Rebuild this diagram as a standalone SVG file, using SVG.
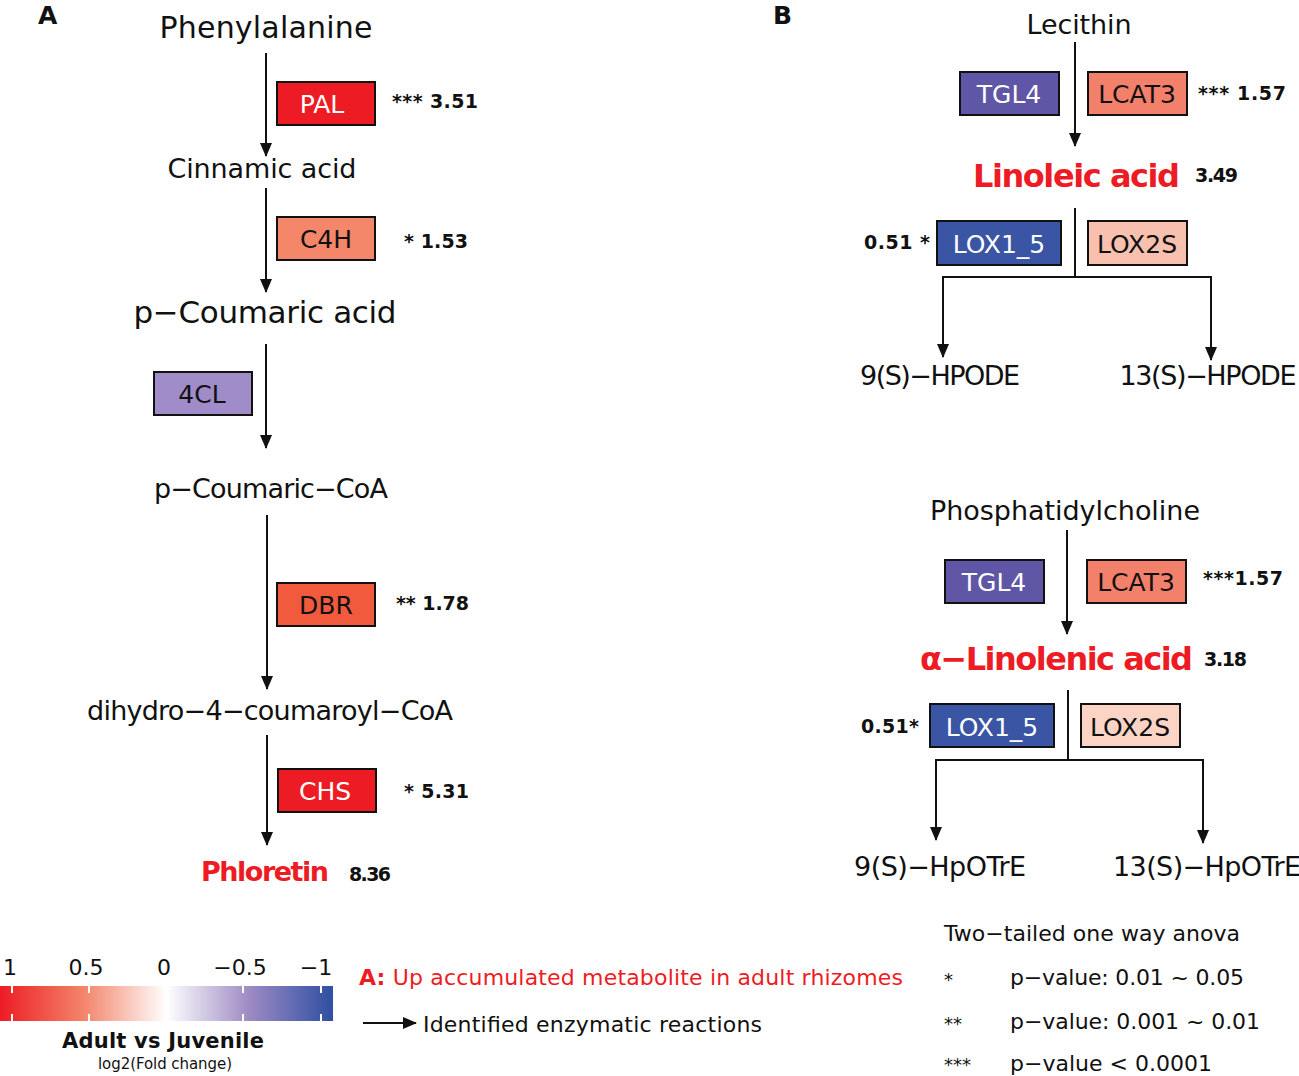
<svg xmlns="http://www.w3.org/2000/svg" width="1299" height="1076" viewBox="0 0 1299 1076">
<style>
text{font-family:"DejaVu Sans","Liberation Sans",sans-serif;fill:#111}
.m{font-size:27px}
.red{fill:#ED1C24;font-weight:bold}
.box{stroke:#111;stroke-width:2}
.bt{font-size:25px;text-anchor:middle}
.w{fill:#fff}
.st{font-size:19px;font-weight:bold}
.ln{stroke:#111;stroke-width:2;fill:none}
.pl{font-size:25px;font-weight:bold}
.lg{font-size:22px}
</style>
<defs>
<marker id="ah" markerUnits="userSpaceOnUse" markerWidth="14" markerHeight="14" viewBox="0 0 14 14" refX="13" refY="7" orient="auto">
<path d="M0,1 L14,7 L0,13 Z" fill="#111"/>
</marker>
<linearGradient id="grad" x1="0" y1="0" x2="1" y2="0">
<stop offset="0" stop-color="#ED1C24"/>
<stop offset="0.25" stop-color="#F3846A"/>
<stop offset="0.5" stop-color="#FFFFFF"/>
<stop offset="0.75" stop-color="#9D8AC3"/>
<stop offset="1" stop-color="#2E4FA3"/>
</linearGradient>
</defs>

<text x="38" y="24" class="pl">A</text>
<text x="773" y="24" class="pl">B</text>

<g id="connectors">
<line x1="266" y1="53" x2="266" y2="156" class="ln" marker-end="url(#ah)"/>
<line x1="266" y1="188" x2="266" y2="292" class="ln" marker-end="url(#ah)"/>
<line x1="266" y1="344" x2="266" y2="448" class="ln" marker-end="url(#ah)"/>
<line x1="267" y1="515" x2="267" y2="689" class="ln" marker-end="url(#ah)"/>
<line x1="267" y1="735" x2="267" y2="845" class="ln" marker-end="url(#ah)"/>
<line x1="1075" y1="42" x2="1075" y2="146" class="ln" marker-end="url(#ah)"/>
<polyline points="1075,208 1075,277" class="ln"/>
<polyline points="943,277 1211,277 1211,360" class="ln" marker-end="url(#ah)"/>
<line x1="943" y1="276" x2="943" y2="357" class="ln" marker-end="url(#ah)"/>
<line x1="1067" y1="530" x2="1067" y2="634" class="ln" marker-end="url(#ah)"/>
<polyline points="1068,690 1068,760" class="ln"/>
<polyline points="936,760 1203,760 1203,843" class="ln" marker-end="url(#ah)"/>
<line x1="936" y1="759" x2="936" y2="840" class="ln" marker-end="url(#ah)"/>
<line x1="363" y1="1023" x2="416" y2="1023" class="ln" marker-end="url(#ah)"/>
</g>

<g id="n-phenylalanine"><text x="266" y="38" text-anchor="middle" font-size="30" textLength="213">Phenylalanine</text></g>
<g id="n-pal"><rect x="277" y="82" width="98" height="43" fill="#ED1C24" class="box"/><text x="322" y="113" class="bt w">PAL</text><text x="392" y="108" class="st" textLength="86">*** 3.51</text></g>
<g id="n-cinnamic"><text x="262" y="178" text-anchor="middle" class="m" textLength="189">Cinnamic acid</text></g>
<g id="n-c4h"><rect x="277" y="217" width="98" height="43" fill="#F4866A" class="box"/><text x="326" y="248" class="bt">C4H</text><text x="404" y="248" class="st" textLength="64">*  1.53</text></g>
<g id="n-pcoumaric"><text x="265" y="323" text-anchor="middle" font-size="31" textLength="263">p−Coumaric acid</text></g>
<g id="n-4cl"><rect x="154" y="372" width="98" height="43" fill="#A08CC8" class="box"/><text x="202" y="403" class="bt">4CL</text></g>
<g id="n-pcoumaricoa"><text x="271" y="498" text-anchor="middle" class="m" textLength="234">p−Coumaric−CoA</text></g>
<g id="n-dbr"><rect x="277" y="583" width="98" height="43" fill="#F15A3C" class="box"/><text x="326" y="614" class="bt">DBR</text><text x="396" y="610" class="st" textLength="73">** 1.78</text></g>
<g id="n-dihydro"><text x="270" y="720" text-anchor="middle" class="m" textLength="366">dihydro−4−coumaroyl−CoA</text></g>
<g id="n-chs"><rect x="278" y="769" width="98" height="43" fill="#ED1C24" class="box"/><text x="325" y="800" class="bt w">CHS</text><text x="404" y="798" class="st" textLength="65">*  5.31</text></g>
<g id="n-phloretin"><text x="201" y="881" font-size="27" class="red" textLength="128">Phloretin</text><text x="349" y="881" class="st" textLength="42">8.36</text></g>

<g id="n-lecithin"><text x="1079" y="34" text-anchor="middle" class="m" textLength="105">Lecithin</text></g>
<g id="n-tgl4a"><rect x="960" y="72" width="99" height="43" fill="#5F56A6" class="box"/><text x="1009" y="103" class="bt w">TGL4</text></g>
<g id="n-lcat3a"><rect x="1088" y="72" width="99" height="43" fill="#F3806A" class="box"/><text x="1137" y="103" class="bt">LCAT3</text><text x="1198" y="100" class="st" textLength="88">***  1.57</text></g>
<g id="n-linoleic"><text x="973" y="187" font-size="32" class="red" textLength="207">Linoleic acid</text><text x="1195" y="182" class="st" textLength="43">3.49</text></g>
<g id="n-lox15a"><rect x="937" y="221" width="124" height="44" fill="#3B55A5" class="box"/><text x="999" y="253" class="bt w">LOX1_5</text><text x="864" y="249" class="st" textLength="66">0.51  *</text></g>
<g id="n-lox2sa"><rect x="1088" y="221" width="99" height="44" fill="#F8C0AE" class="box"/><text x="1137" y="253" class="bt">LOX2S</text></g>
<g id="n-9hpode"><text x="940" y="385" text-anchor="middle" class="m" textLength="160">9(S)−HPODE</text></g>
<g id="n-13hpode"><text x="1208" y="385" text-anchor="middle" class="m" textLength="177">13(S)−HPODE</text></g>

<g id="n-pc"><text x="1065" y="520" text-anchor="middle" class="m" textLength="270">Phosphatidylcholine</text></g>
<g id="n-tgl4b"><rect x="945" y="560" width="99" height="43" fill="#5F56A6" class="box"/><text x="994" y="591" class="bt w">TGL4</text></g>
<g id="n-lcat3b"><rect x="1087" y="560" width="99" height="43" fill="#F3806A" class="box"/><text x="1136" y="591" class="bt">LCAT3</text><text x="1203" y="585" class="st" textLength="80">***1.57</text></g>
<g id="n-linolenic"><text x="920" y="670" font-size="32" class="red" textLength="273">α−Linolenic acid</text><text x="1204" y="666" class="st" textLength="43">3.18</text></g>
<g id="n-lox15b"><rect x="930" y="704" width="124" height="43" fill="#3B55A5" class="box"/><text x="992" y="736" class="bt w">LOX1_5</text><text x="861" y="733" class="st" textLength="58">0.51*</text></g>
<g id="n-lox2sb"><rect x="1081" y="704" width="99" height="43" fill="#FCD4C6" class="box"/><text x="1130" y="736" class="bt">LOX2S</text></g>
<g id="n-9hpotre"><text x="940" y="876" text-anchor="middle" class="m" textLength="172">9(S)−HpOTrE</text></g>
<g id="n-13hpotre"><text x="1207" y="876" text-anchor="middle" class="m" textLength="188">13(S)−HpOTrE</text></g>

<g id="legend-scale">
<rect x="0" y="986" width="333" height="35" fill="url(#grad)"/>
<g stroke="#fff" stroke-width="2">
<line x1="12" y1="986" x2="12" y2="993"/><line x1="12" y1="1014" x2="12" y2="1021"/>
<line x1="89" y1="986" x2="89" y2="993"/><line x1="89" y1="1014" x2="89" y2="1021"/>
<line x1="243" y1="986" x2="243" y2="993"/><line x1="243" y1="1014" x2="243" y2="1021"/>
<line x1="321" y1="986" x2="321" y2="993"/><line x1="321" y1="1014" x2="321" y2="1021"/>
</g>
<g class="lg" text-anchor="middle">
<text x="10" y="975">1</text>
<text x="86" y="975">0.5</text>
<text x="164" y="975">0</text>
<text x="240" y="975">−0.5</text>
<text x="316" y="975">−1</text>
</g>
<text x="163" y="1048" text-anchor="middle" font-size="21" font-weight="bold" textLength="202">Adult vs Juvenile</text>
<text x="165" y="1069" text-anchor="middle" font-size="15" textLength="134">log2(Fold change)</text>
</g>

<g id="legend-text">
<text x="359" y="985" class="lg" style="fill:#ED1C24" textLength="544"><tspan font-weight="bold">A:</tspan> Up accumulated metabolite in adult rhizomes</text>
<text x="423" y="1032" class="lg" textLength="339">Identified enzymatic reactions</text>
<text x="944" y="941" class="lg" textLength="296">Two−tailed one way anova</text>
<text x="944" y="986" font-size="18">*</text><text x="1010" y="985" class="lg" textLength="234">p−value: 0.01 ~ 0.05</text>
<text x="944" y="1030" font-size="18">**</text><text x="1010" y="1029" class="lg" textLength="250">p−value: 0.001 ~ 0.01</text>
<text x="944" y="1071" font-size="18">***</text><text x="1010" y="1071" class="lg" textLength="202">p−value &lt; 0.0001</text>
</g>
</svg>
